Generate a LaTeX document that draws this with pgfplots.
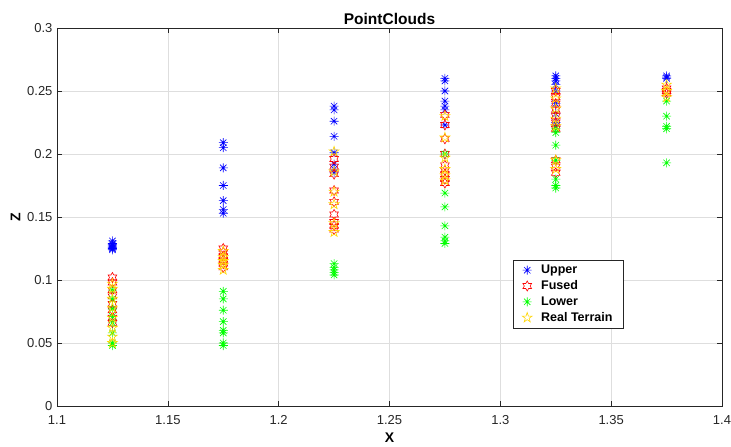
\documentclass[border=0pt]{standalone}
\usepackage{pgfplots}
\pgfplotsset{compat=1.18}
\usepackage{fontspec}
\setmainfont{Liberation Sans}
\setsansfont{Liberation Sans}

\definecolor{mblue}{rgb}{0,0,1}
\definecolor{mred}{rgb}{1,0,0}
\definecolor{mgreen}{rgb}{0,1,0}
\definecolor{myellow}{rgb}{1,0.84,0}
\definecolor{gridgray}{rgb}{0.87,0.87,0.87}
\definecolor{axgray}{rgb}{0.15,0.15,0.15}

% eight-armed asterisk
\pgfdeclareplotmark{mstar}{%
  \pgfpathmoveto{\pgfqpoint{-\pgfplotmarksize}{0pt}}\pgfpathlineto{\pgfqpoint{\pgfplotmarksize}{0pt}}%
  \pgfpathmoveto{\pgfqpoint{0pt}{-\pgfplotmarksize}}\pgfpathlineto{\pgfqpoint{0pt}{\pgfplotmarksize}}%
  \pgfpathmoveto{\pgfpointpolar{45}{\pgfplotmarksize}}\pgfpathlineto{\pgfpointpolar{225}{\pgfplotmarksize}}%
  \pgfpathmoveto{\pgfpointpolar{135}{\pgfplotmarksize}}\pgfpathlineto{\pgfpointpolar{315}{\pgfplotmarksize}}%
  \pgfusepathqstroke}
% six-pointed star outline
\pgfdeclareplotmark{hexagram}{%
  \pgfpathmoveto{\pgfpointpolar{90}{\pgfplotmarksize}}%
  \pgfpathlineto{\pgfpointpolar{120}{0.577\pgfplotmarksize}}%
  \pgfpathlineto{\pgfpointpolar{150}{\pgfplotmarksize}}%
  \pgfpathlineto{\pgfpointpolar{180}{0.577\pgfplotmarksize}}%
  \pgfpathlineto{\pgfpointpolar{210}{\pgfplotmarksize}}%
  \pgfpathlineto{\pgfpointpolar{240}{0.577\pgfplotmarksize}}%
  \pgfpathlineto{\pgfpointpolar{270}{\pgfplotmarksize}}%
  \pgfpathlineto{\pgfpointpolar{300}{0.577\pgfplotmarksize}}%
  \pgfpathlineto{\pgfpointpolar{330}{\pgfplotmarksize}}%
  \pgfpathlineto{\pgfpointpolar{0}{0.577\pgfplotmarksize}}%
  \pgfpathlineto{\pgfpointpolar{30}{\pgfplotmarksize}}%
  \pgfpathlineto{\pgfpointpolar{60}{0.577\pgfplotmarksize}}%
  \pgfpathclose\pgfusepathqstroke}
% five-pointed star outline
\pgfdeclareplotmark{pentagram}{%
  \pgfpathmoveto{\pgfpointpolar{90}{\pgfplotmarksize}}%
  \pgfpathlineto{\pgfpointpolar{126}{0.382\pgfplotmarksize}}%
  \pgfpathlineto{\pgfpointpolar{162}{\pgfplotmarksize}}%
  \pgfpathlineto{\pgfpointpolar{198}{0.382\pgfplotmarksize}}%
  \pgfpathlineto{\pgfpointpolar{234}{\pgfplotmarksize}}%
  \pgfpathlineto{\pgfpointpolar{270}{0.382\pgfplotmarksize}}%
  \pgfpathlineto{\pgfpointpolar{306}{\pgfplotmarksize}}%
  \pgfpathlineto{\pgfpointpolar{342}{0.382\pgfplotmarksize}}%
  \pgfpathlineto{\pgfpointpolar{18}{\pgfplotmarksize}}%
  \pgfpathlineto{\pgfpointpolar{54}{0.382\pgfplotmarksize}}%
  \pgfpathclose\pgfusepathqstroke}

\begin{document}
\begin{tikzpicture}
\begin{axis}[
  scale only axis,
  width=665pt, height=378pt,
  xmin=1.1, xmax=1.4, ymin=0, ymax=0.3,
  xtick={1.1,1.15,...,1.4}, ytick={0,0.05,...,0.3},
  xticklabels={1.1,1.15,1.2,1.25,1.3,1.35,1.4},
  yticklabels={0,0.05,0.1,0.15,0.2,0.25,0.3},
  tick align=inside, tickpos=both,
  major tick length=5pt,
  grid=major,
  major grid style={gridgray, line width=0.5pt},
  axis line style={axgray, line width=0.6pt},
  tick style={axgray, line width=0.6pt},
  tick label style={font=\fontsize{13}{15}\selectfont, text=axgray},
  xticklabel style={yshift=-6pt},
  yticklabel style={xshift=-1pt},
  /pgf/number format/assume math mode=true,
  title={\bfseries PointClouds},
  title style={font=\fontsize{15.5}{17}\selectfont, yshift=-6pt},
  xlabel={\bfseries X}, ylabel={\bfseries Z},
  xlabel style={font=\fontsize{14}{16}\selectfont, yshift=-1pt},
  ylabel style={font=\fontsize{14}{16}\selectfont, yshift=0pt},
  legend style={at={(axis cs:1.3057,0.116)}, anchor=north west,
    draw=axgray, line width=0.6pt, fill=white,
    font=\bfseries\fontsize{12.5}{14}\selectfont,
    row sep=1.5pt, inner xsep=9pt, inner ysep=3pt,
    /tikz/every odd column/.append style={column sep=7pt}},
  legend cell align=left,
]
\addplot[only marks, mark=mstar, mark size=4.5pt, draw=mblue, line width=0.6pt] coordinates {
 (1.125,0.131) (1.125,0.129) (1.125,0.128) (1.125,0.127) (1.125,0.126) (1.125,0.125) (1.125,0.124)
 (1.175,0.209) (1.175,0.205) (1.175,0.189) (1.175,0.175) (1.175,0.163) (1.175,0.156) (1.175,0.153)
 (1.225,0.238) (1.225,0.235) (1.225,0.226) (1.225,0.214) (1.225,0.201) (1.225,0.192) (1.225,0.188) (1.225,0.185)
 (1.275,0.260) (1.275,0.258) (1.275,0.250) (1.275,0.242) (1.275,0.238) (1.275,0.235) (1.275,0.223)
 (1.325,0.262) (1.325,0.260) (1.325,0.258) (1.325,0.255) (1.325,0.250) (1.325,0.240) (1.325,0.232) (1.325,0.225) (1.325,0.222)
 (1.375,0.262) (1.375,0.261) (1.375,0.260)
};
\addlegendentry{Upper}
\addplot[only marks, mark=hexagram, mark size=5pt, draw=mred, line width=0.6pt] coordinates {
 (1.125,0.102) (1.125,0.098) (1.125,0.092) (1.125,0.087) (1.125,0.081) (1.125,0.076) (1.125,0.070) (1.125,0.066)
 (1.175,0.125) (1.175,0.122) (1.175,0.119) (1.175,0.116) (1.175,0.113) (1.175,0.110)
 (1.225,0.196) (1.225,0.190) (1.225,0.184) (1.225,0.171) (1.225,0.162) (1.225,0.152) (1.225,0.146) (1.225,0.143) (1.225,0.140)
 (1.275,0.231) (1.275,0.223) (1.275,0.212) (1.275,0.200) (1.275,0.191) (1.275,0.187) (1.275,0.184) (1.275,0.180) (1.275,0.177)
 (1.325,0.250) (1.325,0.245) (1.325,0.240) (1.325,0.235) (1.325,0.230) (1.325,0.225) (1.325,0.220) (1.325,0.195) (1.325,0.190) (1.325,0.185)
 (1.375,0.252) (1.375,0.250) (1.375,0.248)
};
\addlegendentry{Fused}
\addplot[only marks, mark=mstar, mark size=4.5pt, draw=mgreen, line width=0.6pt] coordinates {
 (1.125,0.092) (1.125,0.085) (1.125,0.077) (1.125,0.071) (1.125,0.066) (1.125,0.058) (1.125,0.050) (1.125,0.048)
 (1.175,0.091) (1.175,0.085) (1.175,0.076) (1.175,0.067) (1.175,0.060) (1.175,0.058) (1.175,0.050) (1.175,0.048)
 (1.225,0.113) (1.225,0.110) (1.225,0.108) (1.225,0.106) (1.225,0.104)
 (1.275,0.200) (1.275,0.169) (1.275,0.158) (1.275,0.143) (1.275,0.134) (1.275,0.131) (1.275,0.129)
 (1.325,0.220) (1.325,0.217) (1.325,0.207) (1.325,0.195) (1.325,0.180) (1.325,0.175) (1.325,0.173)
 (1.375,0.242) (1.375,0.230) (1.375,0.222) (1.375,0.220) (1.375,0.193)
};
\addlegendentry{Lower}
\addplot[only marks, mark=pentagram, mark size=5.2pt, draw=myellow, line width=0.6pt] coordinates {
 (1.125,0.097) (1.125,0.093) (1.125,0.085) (1.125,0.078) (1.125,0.070) (1.125,0.062) (1.125,0.055) (1.125,0.050)
 (1.175,0.123) (1.175,0.118) (1.175,0.115) (1.175,0.112) (1.175,0.108)
 (1.225,0.202) (1.225,0.186) (1.225,0.170) (1.225,0.160) (1.225,0.145) (1.225,0.138)
 (1.275,0.230) (1.275,0.213) (1.275,0.197) (1.275,0.188) (1.275,0.183) (1.275,0.179)
 (1.325,0.252) (1.325,0.244) (1.325,0.236) (1.325,0.228) (1.325,0.222) (1.325,0.195) (1.325,0.188)
 (1.375,0.255) (1.375,0.250) (1.375,0.245)
};
\addlegendentry{Real Terrain}
\end{axis}
\pgfresetboundingbox
\path (current axis.south west) ++(-57pt,-41pt) (current axis.north east) ++(9pt,28pt);
\end{tikzpicture}
\end{document}
